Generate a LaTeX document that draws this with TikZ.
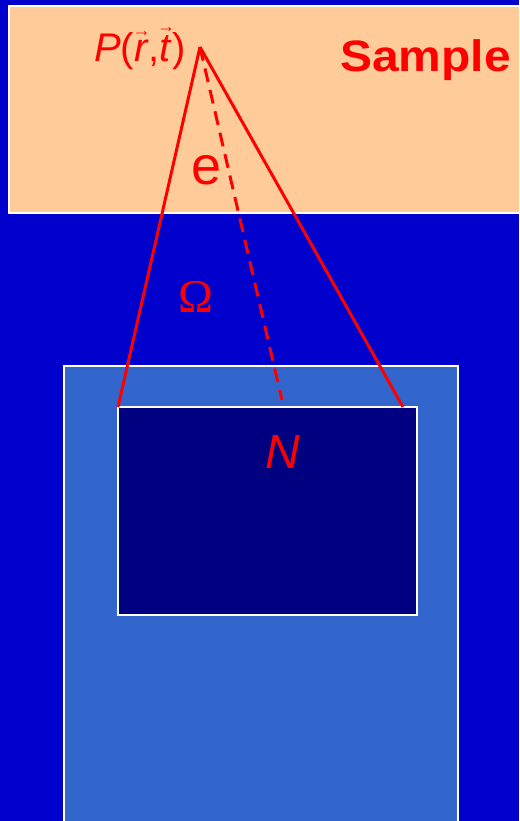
\documentclass[tikz,border=0pt]{standalone}
\usepackage{fontspec}
\setmainfont{Liberation Sans}
\newfontfamily\omegafont{Liberation Serif}
\definecolor{bgblue}{HTML}{0000CC}
\definecolor{peach}{HTML}{FFCC99}
\definecolor{lightblue}{HTML}{3366CC}
\definecolor{darknavy}{HTML}{000080}
\definecolor{labelred}{HTML}{FF0000}
\newcommand{\fsz}[1]{\fontsize{#1}{#1}\selectfont}
\newcommand{\arrowvec}[1]{\leavevmode\vbox{\offinterlineskip
    \halign{\hfil##\hfil\cr\hbox to 0pt{\hss\fsz{18}→\hss}\cr\noalign{\kern4pt}\itshape #1\/\cr}}}

\begin{document}
\begin{tikzpicture}[x=1pt,y=-1pt,
        panel/.style={draw=white,line width=1.5pt},
        ray/.style={labelred,line width=3pt},
        label/.style={labelred,inner sep=0pt}
    ]
            \useasboundingbox (0,0) rectangle (519,821);
            \clip (0,0) rectangle (519,821);
            \fill[bgblue] (0,0) rectangle (519,821);

            \draw[panel,fill=peach]     (9,6)    rectangle (530,213);
            \draw[panel,fill=lightblue] (64,366) rectangle (458,830);
            \draw[panel,fill=darknavy,line width=2pt] (118,407) rectangle (417,615);

            \coordinate (apex)   at (200,47);
            \coordinate (leftc)  at (118,407);
            \coordinate (rightc) at (403,407);
            \coordinate (mid)    at (282,400);

            \path
            (apex)  edge[ray]        (leftc)
            (apex)  edge[ray]        (rightc)
            (apex)  edge[ray,dash pattern=on 14pt off 8pt] (mid);

            \node[label,anchor=base east] (pos) at (186,62)
                {\fsz{40}\textit{P}(\arrowvec{r},\arrowvec{t})};
            \node[label,anchor=base east,xscale=1.09] (sample) at (511,72)
                {\fsz{44}\bfseries Sample};
            \node[label,anchor=base] (e) at (207,184) {\fsz{54}e};
            \node[label,anchor=base] (omega) at (196,312) {\fsz{47}\omegafont Ω};
            \node[label,anchor=base] (count) at (283,468) {\fsz{48}\textit{N}};
        \end{tikzpicture}
\end{document}
